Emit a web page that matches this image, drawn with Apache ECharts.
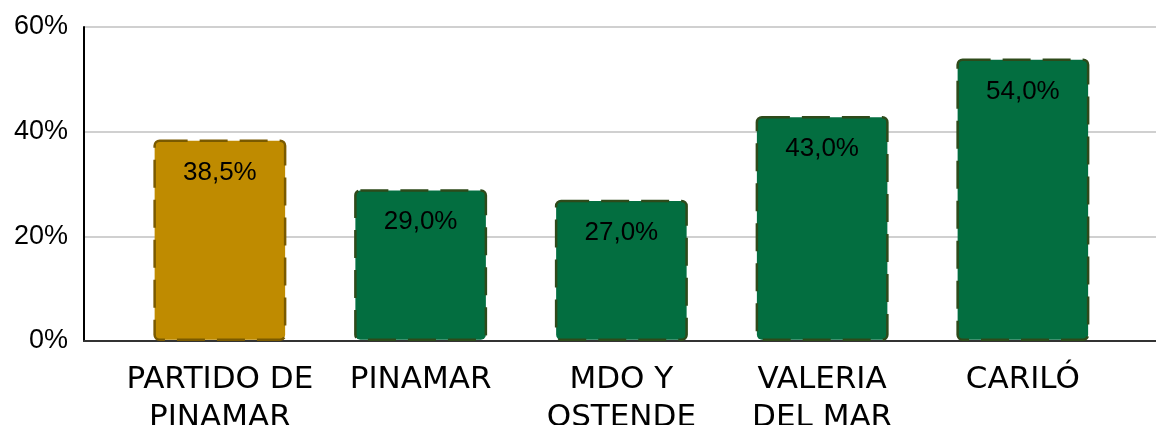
<!DOCTYPE html>
<html>
<head>
<meta charset="utf-8">
<script src="https://cdn.jsdelivr.net/npm/echarts@6/dist/echarts.min.js"></script>
<style>
  html, body { margin: 0; padding: 0; background: #fff; }
  #main { width: 1156px; height: 425px; }
</style>
</head>
<body>
<div id="main"></div>
<script>
// zonas y porcentajes
const categories = ['PARTIDO DE\nPINAMAR', 'PINAMAR', 'MDO Y\nOSTENDE', 'VALERIA\nDEL MAR', 'CARILÓ'];
const values = [38.5, 29.0, 27.0, 43.0, 54.0];
const yTicks = [0, 20, 40, 60];

const gold = '#BF8B00', goldBorder = '#7A5A00';
const green = '#036E40', greenBorder = '#2E4A1A';

let chart = echarts.init(document.getElementById('main'));

chart.setOption({
  backgroundColor: '#fff',
  animation: false,
  grid: [
    { left: 84, right: 0, top: 27, bottom: 84, outerBoundsMode: 'none' },        // ejes y lineas
    { left: 119.5, right: 32.75, top: 27, bottom: 84, outerBoundsMode: 'none' }  // barras
  ],
  xAxis: [
    {
      gridIndex: 0, type: 'category', data: categories,
      axisLine: { lineStyle: { color: '#333', width: 2 } },
      axisTick: { show: false }, axisLabel: { show: false }
    },
    {
      gridIndex: 1, type: 'category', data: categories,
      axisLine: { show: false }, axisTick: { show: false },
      axisLabel: {
        interval: 0, margin: 20, color: '#000', fontFamily: 'DejaVu Sans', fontSize: 31, lineHeight: 38
      }
    }
  ],
  yAxis: [
    {
      gridIndex: 0, type: 'value', min: yTicks[0], max: yTicks[yTicks.length - 1], interval: 20,
      axisLine: { show: true, lineStyle: { color: '#000', width: 2 } },
      axisTick: { show: false },
      axisLabel: { formatter: '{value}%', margin: 16, color: '#000', fontFamily: 'Liberation Sans', fontSize: 27 },
      splitLine: { lineStyle: { color: '#d0d0d0', width: 2 } }
    },
    {
      gridIndex: 1, type: 'value', min: 0, max: 60, interval: 20, show: false
    }
  ],
  series: [{
    type: 'bar',
    xAxisIndex: 1, yAxisIndex: 1,
    barWidth: 133,
    z: 3,
    data: values.map((v, i) => ({
      value: v,
      itemStyle: i === 0
        ? { color: gold, borderColor: goldBorder }
        : { color: green, borderColor: greenBorder }
    })),
    itemStyle: { borderWidth: 2.5, borderType: [28, 12], borderRadius: 5 },
    label: {
      show: true, position: 'insideTop', distance: 20,
      color: '#000', fontFamily: 'Liberation Sans', fontSize: 26,
      formatter: p => p.value.toFixed(1).replace('.', ',') + '%'
    }
  }]
});
</script>
</body>
</html>
